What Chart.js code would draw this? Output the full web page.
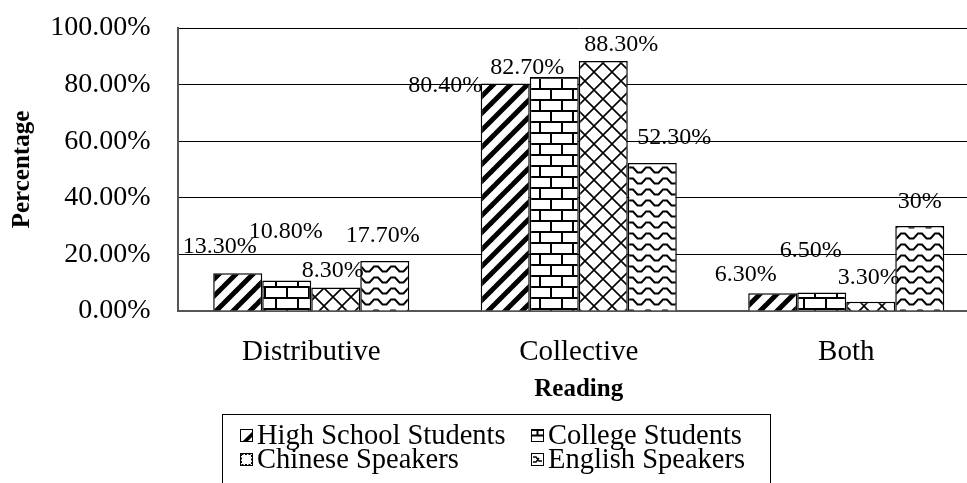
<!DOCTYPE html>
<html>
<head>
<meta charset="utf-8">
<script src="https://cdn.jsdelivr.net/npm/chart.js@4.4.1/dist/chart.umd.min.js"></script>
<style>
  html, body { margin: 0; padding: 0; background: #fff; width: 967px; height: 483px; overflow: hidden; }
  canvas { display: block; }
</style>
</head>
<body>
<canvas id="chart" width="980" height="483"></canvas>
<script>
// Share of each reading chosen by each participant group (%)
const categories = ['Distributive', 'Collective', 'Both'];
const seriesNames = ['High School Students', 'College Students', 'Chinese Speakers', 'English Speakers'];
const highSchool = [13.3, 80.4, 6.3];
const college = [10.8, 82.7, 6.5];
const chinese = [8.3, 88.3, 3.3];
const english = [17.7, 52.3, 30];
const yTickLabels = ['0.00%', '20.00%', '40.00%', '60.00%', '80.00%', '100.00%'];

// Hand placement of each value label relative to the top centre of its bar [dx, dy]
const labelShift = [
  [[-18, -27], [-60, 2], [-27, -18]],
  [[-1, -49], [-27, -9], [-11, -42]],
  [[-3, -17], [18, -16], [-2, -24]],
  [[-2, -25], [22, -25], [0, -24]]
];

const SERIF = "'Liberation Serif', 'Times New Roman', serif";
Chart.defaults.font.family = SERIF;
Chart.defaults.color = '#000';

// Black-and-white fill tiles
function makeTile(w, h, draw) {
  const c = document.createElement('canvas');
  c.width = w; c.height = h;
  const g = c.getContext('2d');
  g.fillStyle = '#fff';
  g.fillRect(0, 0, w, h);
  g.fillStyle = '#000';
  g.strokeStyle = '#000';
  draw(g, w, h);
  return c;
}

const stripeTile = makeTile(17, 17, (g, w, h) => {
  const t = 7;
  for (let k = -1; k <= 1; k++) {
    g.beginPath();
    g.moveTo(0, h + k * h - t / 2);
    g.lineTo(w, k * h - t / 2);
    g.lineTo(w, k * h + t / 2);
    g.lineTo(0, h + k * h + t / 2);
    g.closePath();
    g.fill();
  }
});

const brickTile = makeTile(22, 22, (g) => {
  g.fillRect(0, 0, 22, 2);
  g.fillRect(0, 11, 22, 2);
  g.fillRect(0, 0, 2, 11);
  g.fillRect(11, 11, 2, 11);
});

const latticeTile = makeTile(18, 18, (g, w, h) => {
  g.lineWidth = 1.6;
  g.beginPath();
  for (const dx of [-w, 0, w]) {
    g.moveTo(dx, 0); g.lineTo(dx + w, h);
    g.moveTo(dx, h); g.lineTo(dx + w, 0);
  }
  g.stroke();
});

const waveTile = makeTile(17, 11, (g, w, h) => {
  g.lineWidth = 2;
  g.beginPath();
  for (const dy of [-h, 0, h]) {
    g.moveTo(-1, 2.5 + dy);
    g.lineTo(4, 2.5 + dy);
    g.lineTo(8.5, 7.5 + dy);
    g.lineTo(12.5, 7.5 + dy);
    g.lineTo(17, 2.5 + dy);
    g.lineTo(18, 2.5 + dy);
  }
  g.stroke();
});

const canvas = document.getElementById('chart');
const ctx = canvas.getContext('2d');
const fills = [stripeTile, brickTile, latticeTile, waveTile].map(t => ctx.createPattern(t, 'repeat'));
const seriesValues = [highSchool, college, chinese, english];

function formatPct(v) {
  return Number.isInteger(v) ? v + '%' : v.toFixed(2) + '%';
}

// Value labels above the bars
const valueLabels = {
  id: 'valueLabels',
  afterDatasetsDraw(chart) {
    const g = chart.ctx;
    g.save();
    g.font = '24px ' + SERIF;
    g.fillStyle = '#000';
    g.textAlign = 'center';
    g.textBaseline = 'middle';
    chart.data.datasets.forEach((ds, di) => {
      const meta = chart.getDatasetMeta(di);
      meta.data.forEach((bar, i) => {
        const [dx, dy] = labelShift[di][i];
        g.fillText(formatPct(ds.data[i]), bar.x + dx, bar.y + dy);
      });
    });
    g.restore();
  }
};

// Small legend swatches
function drawSwatch(g, idx, x, y, s) {
  g.save();
  g.fillStyle = '#fff';
  g.fillRect(x, y, s, s);
  g.strokeStyle = '#000';
  g.fillStyle = '#000';
  g.lineWidth = 1;
  if (idx === 0) {
    g.beginPath();
    g.moveTo(x + 2, y + s);
    g.lineTo(x + s, y + 2);
    g.lineTo(x + s, y + 7);
    g.lineTo(x + 7, y + s);
    g.closePath();
    g.fill();
    g.strokeRect(x + 0.5, y + 0.5, s - 1, s - 1);
  } else if (idx === 1) {
    g.strokeRect(x + 0.5, y + 0.5, s - 1, s - 1);
    g.fillRect(x, y + s / 2 - 1, s, 2);
    g.fillRect(x + s / 2 - 1, y, 2, s / 2);
    g.fillRect(x, y, s, 2);
  } else if (idx === 2) {
    g.setLineDash([2, 1.5]);
    g.strokeRect(x + 1.5, y + 1.5, s - 3, s - 3);
    g.setLineDash([]);
    g.strokeRect(x + 0.5, y + 0.5, s - 1, s - 1);
  } else {
    g.strokeRect(x + 0.5, y + 0.5, s - 1, s - 1);
    g.beginPath();
    g.moveTo(x + 2, y + 4); g.lineTo(x + 5, y + 4); g.lineTo(x + 8, y + 8); g.lineTo(x + 11, y + 8);
    g.moveTo(x + 2, y + 9); g.lineTo(x + 5, y + 9); g.lineTo(x + 8, y + 5);
    g.lineWidth = 1.5;
    g.stroke();
  }
  g.restore();
}

const boxedLegend = {
  id: 'boxedLegend',
  afterDraw(chart) {
    const g = chart.ctx;
    const left = 222, top = 414, width = 548;
    g.save();
    g.strokeStyle = '#000';
    g.lineWidth = 1;
    g.strokeRect(left + 0.5, top + 0.5, width, 100);
    g.font = '28.5px ' + SERIF;
    g.fillStyle = '#000';
    g.textBaseline = 'middle';
    g.textAlign = 'left';
    const cols = [240, 531];
    const rows = [436, 460];
    chart.data.datasets.forEach((ds, i) => {
      const cx = cols[i % 2], cy = rows[Math.floor(i / 2)];
      drawSwatch(g, i, cx, cy - 7, 13);
      g.fillText(ds.label, cx + 17, cy + 1);
    });
    g.restore();
  }
};

new Chart(ctx, {
  type: 'bar',
  data: {
    labels: categories,
    datasets: seriesNames.map((name, i) => ({
      label: name,
      data: seriesValues[i],
      backgroundColor: fills[i],
      borderColor: '#000',
      borderWidth: 1.5,
      categoryPercentage: 0.733,
      barPercentage: 1.0
    }))
  },
  options: {
    responsive: false,
    animation: false,
    devicePixelRatio: 1,
    layout: { padding: { left: 0, right: 0, top: 28, bottom: 69 } },
    plugins: {
      legend: { display: false },
      tooltip: { enabled: false }
    },
    scales: {
      x: {
        grid: { display: false, drawTicks: false },
        border: { display: true, color: '#555', width: 2 },
        ticks: {
          autoSkip: false,
          maxRotation: 0,
          padding: 24,
          color: '#000',
          font: { size: 29, family: SERIF }
        },
        title: {
          display: true,
          text: 'Reading',
          color: '#000',
          font: { size: 25, weight: 'bold', family: SERIF },
          padding: { top: 0, bottom: 9 }
        },
        afterFit(scale) {
          scale.height = 103;
          scale.paddingLeft = 0;
          scale.paddingRight = 0;
        }
      },
      y: {
        min: 0,
        max: 100,
        grid: { color: '#000', lineWidth: 1, drawTicks: false },
        border: { display: true, color: '#555', width: 2 },
        ticks: {
          stepSize: 20,
          autoSkip: false,
          padding: 27,
          color: '#000',
          font: { size: 28, family: SERIF },
          callback: (v, i) => yTickLabels[i]
        },
        title: {
          display: true,
          text: 'Percentage',
          color: '#000',
          font: { size: 25, weight: 'bold', family: SERIF },
          padding: { top: 8, bottom: 0 }
        },
        afterFit(scale) {
          scale.width = 177.5;
          scale.paddingTop = 0;
          scale.paddingBottom = 0;
        }
      }
    }
  },
  plugins: [valueLabels, boxedLegend]
});
</script>
</body>
</html>
